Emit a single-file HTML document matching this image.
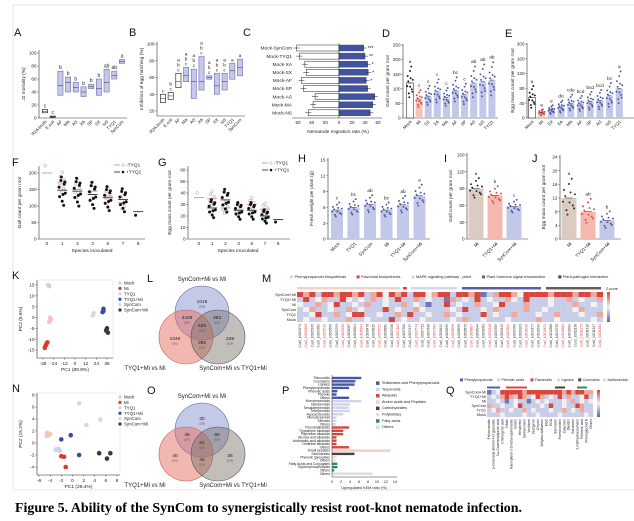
<!DOCTYPE html>
<html><head><meta charset="utf-8">
<style>
html,body{margin:0;padding:0;background:#fff;}
svg{display:block;font-family:"Liberation Sans",Arial,sans-serif;}
</style></head>
<body>
<svg id="fig" xmlns="http://www.w3.org/2000/svg" width="634" height="521" viewBox="0 0 634 521">
<rect x="13" y="5" width="640" height="485" fill="none" stroke="#e6e6e6" stroke-width="1"/>
<text x="15" y="512" font-family="Liberation Serif, serif" font-weight="bold" font-size="14" textLength="507" lengthAdjust="spacingAndGlyphs">Figure 5. Ability of the SynCom to synergistically resist root-knot nematode infection.</text>
</svg>
<script>
// ---------- DATA ----------
const catsA=["R2A broth","E.coli","AF","MA","AS","XA","SP","SX","NS","TYQ1","SynCom"];
const medA=[10,2,50,55,47,40,48,45,55,65,87];
const q1A=[8,1,35,40,40,33,45,35,40,60,84];
const q3A=[13,3,72,63,55,48,52,60,75,72,90];
const letA=["c","c","b","b","b","b","b","b","ab","ab","a"];
const catsB=["R2A broth","E.coli","AF","MA","AS","XA","SP","SX","NS","TYQ1","SynCom"];
const medB=[35,38,55,62,55,55,60,50,55,68,72];
const q1B=[30,34,48,55,35,45,58,40,45,58,62];
const q3B=[40,42,65,72,70,85,62,65,65,77,82];
const letB=["c","bc","abc","abc","abc","abc","abc","abc","abc","a","a"];
const catsC=["Mock-SynCom","Mock-TYQ1","Mock-XA","Mock-SX","Mock-AF","Mock-SP","Mock-AS","Mock-MA","Mock-NS"];
const leftC=[62,58,50,48,55,52,35,38,45];
const rightC=[38,40,44,45,42,44,55,52,48];
const starsC=["***","**","*","*","*","","","",""];
const catsD=["Mock","Mi","SX","XA","MA","AF","SP","AS","NS","TYQ1"];
const valsD=[120,65,75,90,70,95,80,120,125,130];
const letD=["a","c","c","c","c","bc","c","ab","ab","ab"];
const catsE=["Mock","Mi","SX","XA","MA","AF","SP","AS","NS","TYQ1"];
const valsE=[55,15,22,30,40,38,45,48,60,80];
const letE=["a","e","e","de","cde","bcd","bcd","bcd","bc","a"];
const speciesF=["0","1","2","3","5","7","8"];
const minusF=[200,170,150,145,130,110,null];
const plusF=[null,148,145,135,125,120,83];
const minusG=[36,35,27,25,30,26,null];
const plusG=[null,27,34,25,25,20,17];
const catsH=["Mock","TYQ1","SynCom","Mi","TYQ1+Mi","SynCom+Mi"];
const valsH=[5.5,6.0,6.6,5.5,6.5,8.2];
const letH=["c","bc","ab","bc","ab","a"];
const catsI=["Mi","TYQ1+Mi","SynCom+Mi"];
const valsI=[90,78,58];
const letI=["a","b","c"];
const valsJ=[12,8,5.5];
const letJ=["a","ab","b"];
const groupsPCA=["Mock","Mi","TYQ1","TYQ1+Mi","SynCom","SynCom+Mi"];
const pcaKx=[[-28,-27,-29],[-33,-32,-34,-31],[-30,-29],[32,32,31],[20,21],[36,35,37]];
const pcaKy=[[0,-1,-2],[-13,-12,-14,-11.5],[15,14.5],[4,3,2.5],[1,2],[-5,-6,-7]];
const pcaNx=[[-4.5,-4.2,-4.6,-4],[-2,-1.5,-1.2],[-3,-2.5,-2.3],[-2,-0.3,1.2],[1.2,2.5,5],[4.8,6.2,6.8]];
const pcaNy=[[1.7,1.3,1.2,1.5],[-2.2,-2.3,-4],[-1.1,-1,-1.3],[0.6,1.3,-2],[6.6,3,3.9],[-1.7,-2.6,-1.7]];
const vennL=[["1016","(108)"],["3439","(191)"],["535","(215)"],["383","(119)"],["1046","(281)"],["385","(211)"],["249","(219)"]];
const vennO=[["30","(126)"],["46","(107)"],["61","(111)"],["80","(118)"],["40","(201)"],["46","(211)"],["36","(219)"]];
const heatRowsM=["SynCom+Mi","TYQ1+Mi","Mi","SynCom","TYQ1","Mock"];
const heatM=[
"RrRbRRrRRrRbrRwRrRbRRwrRRbRRrRBbrRRrwRRRRrRRRrRRrR",
"bRbwrbbRwbwbrbwbRbbrbwbbBrbwbRbwbbrwbRbbbwbbrbwbbr",
"wbbrbwRbbwbrbbwbbrbwbBbbRbwbbrbbwRbbbrbbbwbbbrbbwb",
"bwrbbwbbrbwbbbRbwbbrwbbbbwbRbbwbrbbbbrbbwbbbbwrbbb",
"bbwRbbrbwRRbbwbbrbRbbwbbrbwbbbRbwbbrbbbwbbrbbbwbbr",
"bwbbwbbbrbbwbbbRbwbbwbbbbwbrbbwbbbwbbbbrbbwbbbbbwb"];
const heatQ=[
"BbwRRRRRrRRRRRRRRrRrRRrr",
"bwbrRrbRrbwRrbwbRbrbbwRb",
"bbwbBbwbbBbwbwbbbwbrbwbw",
"rbbwbbwRbbbbwbRbbwbbRrbb",
"bwrbbwbbrbwbbbwbbrbwbrbb",
"bbbwbbbbwbbwbbbbwbbbbbwb"];
const labelsQ=["Psilocinamide","p-Coumaryl alcohol 4-O-glucoside","3-p-Coumaroylquinic acid","Chlorogenic acid","Trifolin","Kaempferol 3-O-beta-sophoroside","Gnetin","Hesperetin","Isorhamnetin","Vestitone","Vestigenin","Chrysin","Dihydro-isoflavone","EGC","ECA","Biochanin","Formononetin","Calycosin","Daidzin","Sakuranin","3,4-Dihydrocoumarin","Phloretic acid","Phloroglucinol A","Others"];
const catsP=["Flavonoids","Coumarins","Lignans","Phenylpropanoids","Phenolic acids","Phenols","Others","Monoterpenoids","Diterpenoids","Sesquiterpenoids","Triterpenoids","Apocarotenoids","Monoterpenoid","Steroids","Others","Pseudoalkaloids","Tryptamine alkaloids","Piperidine alkaloids","Alcohol and alkaloids","Anthranilic acid alkaloids","Ornithine alkaloids","Others","Small peptides","Saccharides","Phenolic glycosides","Others","Fatty Acids and Conjugates","Glycerophospholipids","Others","Others"];
const valsP=[6.5,5.2,5,3.8,1.2,1,3.8,6.5,4,3.8,4,2.5,1,1,0.8,3.8,2.5,2.5,1,1,1,3.8,13,5,1,0.8,1.2,1.2,0.5,9];
const groupP=[0,0,0,0,0,0,0,1,1,1,1,1,1,1,1,2,2,2,2,2,2,2,3,4,5,5,6,6,6,7];
const legendP=["Shikimates and Phenylpropanoids","Terpenoids","Alkaloids","Amino acids and Peptides","Carbohydrates","Polyketides","Fatty acids","Others"];

// ---------- HELPERS ----------
const NS="http://www.w3.org/2000/svg";
const svg=document.getElementById('fig');
function mk(tag,attrs,parent){const e=document.createElementNS(NS,tag);for(const k in attrs)e.setAttribute(k,attrs[k]);(parent||svg).appendChild(e);return e;}
function tx(x,y,s,size,anchor,extra){const e=mk('text',Object.assign({x:x,y:y,'font-size':size,'text-anchor':anchor||'start',fill:'#222'},extra||{}));e.textContent=s;return e;}
function lin(d0,d1,r0,r1){return v=>r0+(v-d0)*(r1-r0)/(d1-d0);}
const NAVY="#4a56a6",LAV="#c3c7e8",RED="#dd4a3f",PINK="#f6c3bb";
const jit=[[-2,0.22],[1.5,-0.2],[0,0.38],[-1,-0.33],[2.4,0.1],[-2.4,-0.1],[0.6,0.15],[-0.6,-0.45],[1.1,0.52],[2,-0.28],[-1.5,0.05],[0.2,-0.12]];

function panelLetter(x,y,s){const t=tx(x,y,s,11,'start',{fill:'#111'});

}
function yAxis(x,y,ticks,top,bottom,title,titleX,tag){
 const l=mk('line',{x1:x,x2:x,y1:top,y2:bottom,stroke:'#333','stroke-width':0.6});
 
 
 ticks.forEach(v=>{mk('line',{x1:x-1.5,x2:x,y1:y(v),y2:y(v),stroke:'#333','stroke-width':0.5});
  const t=tx(x-2.5,y(v)+1.6,String(v),4.6,'end');
  
  });
 if(title){const cy=(top+bottom)/2;const t=tx(titleX,cy,title,4.8,'middle',{transform:`rotate(-90 ${titleX} ${cy})`});
  
  }
}
function xLine(x0,x1,y,tag){const l=mk('line',{x1:x0,x2:x1,y1:y,y2:y,stroke:'#333','stroke-width':0.6});
 
 }
function rotLabel(x,y,s,size,tag){const t=tx(x,y,s,size||4.6,'end',{transform:`rotate(-45 ${x} ${y})`});
 
 }

// ---------- A ----------
panelLetter(14,36,'A');
{const y=lin(0,100,118,53),xa=i=>45+i*7.7;
 yAxis(39,y,[0,20,40,60,80,100],50,118,'J2 mortality (%)',25,'a');xLine(39,127,118,'a');
 catsA.forEach((c,i)=>{const x=xa(i);const white=i<2;
  const b=mk('rect',{x:x-2.6,y:y(q3A[i]),width:5.2,height:Math.max(0.8,y(q1A[i])-y(q3A[i])),fill:white?'#fff':'#c5c8ea',stroke:white?'#111':'#6b70b2','stroke-width':0.6});
  
  
  mk('line',{x1:x-2.6,x2:x+2.6,y1:y(medA[i]),y2:y(medA[i]),stroke:'#333','stroke-width':0.5});
  const l=tx(x,y(q3A[i])-2,letA[i],5,'middle');
  
  
  rotLabel(x+2,122,c,4.4,'a');});}
// ---------- B ----------
panelLetter(129,36,'B');
{const y=lin(20,100,111,44),xb=i=>163+i*7.7;
 yAxis(157,y,[20,40,60,80,100],42,116,'Inhibition of egg hatching (%)',143,'b');xLine(157,245,116,'b');
 catsB.forEach((c,i)=>{const x=xb(i);const white=i<3;
  const b=mk('rect',{x:x-2.6,y:y(q3B[i]),width:5.2,height:y(q1B[i])-y(q3B[i]),fill:white?'#fff':'#c5c8ea',stroke:white?'#111':'#6b70b2','stroke-width':0.6});
  
  
  mk('line',{x1:x-2.6,x2:x+2.6,y1:y(medB[i]),y2:y(medB[i]),stroke:'#333','stroke-width':0.5});
  const s=letB[i];for(let k=0;k<s.length;k++){const l=tx(x,y(q3B[i])-2-(s.length-1-k)*5,s[k],4.8,'middle');
   
   }
  rotLabel(x+2,120,c,4.4,'b');});}
// ---------- C ----------
panelLetter(243,36,'C');
{const xl=lin(0,60,339,298),xr=lin(0,60,339,378),yc=i=>48+i*8.1;
 catsC.forEach((c,i)=>{const yy=yc(i);
  const t=tx(292,yy+1.7,c,4.8,'end');
  
  
  const bl=mk('rect',{x:xl(leftC[i]),y:yy-3,width:339-xl(leftC[i]),height:6,fill:'#fff',stroke:'#222','stroke-width':0.5});
  
  
  const br=mk('rect',{x:339,y:yy-3,width:xr(rightC[i])-339,height:6,fill:'#4453a0',stroke:'#2d3a80','stroke-width':0.4});
  
  
  mk('line',{x1:xl(leftC[i])-3,x2:xl(leftC[i])+3,y1:yy,y2:yy,stroke:'#222','stroke-width':0.5});
  mk('line',{x1:xr(rightC[i])-2,x2:xr(rightC[i])+3,y1:yy,y2:yy,stroke:'#222','stroke-width':0.5});
  if(starsC[i]){const s=tx(xr(rightC[i])+4,yy+2,starsC[i],5,'start');
   
   }});
 mk('line',{x1:339,x2:339,y1:43,y2:118,stroke:'#333','stroke-width':0.6});
 xLine(292,382,118,'c');
 [60,40,20].forEach(v=>{const a=tx(xl(v),124,String(v),4.6,'middle');});
 [0,20,40,60].forEach(v=>{const a=tx(xr(v),124,String(v),4.6,'middle');});
 const tt=tx(338,133,'Nematode migration rate (%)',4.8,'middle');
 
 }
// ---------- bar+dot helper ----------
function barDots(cats,vals,xf,w,y,fills,dotCols,lets,tag,spread,strokeFirst){
 cats.forEach((c,i)=>{const x=xf(i);
  const r=mk('rect',{x:x-w/2,y:y(vals[i]),width:w,height:y(0)-y(vals[i]),fill:fills[i],stroke:(strokeFirst&&i==0)?'#111':'none','stroke-width':0.5});
  
  
  jit.forEach(j=>{const v=vals[i]*(1+j[1]*spread);
   const d=mk('circle',{cx:x+j[0]*w/6,cy:y(v),r:0.95,fill:dotCols[i]});
   
   });
  mk('line',{x1:x-w/4,x2:x+w/4,y1:y(vals[i]),y2:y(vals[i]),stroke:'#222','stroke-width':0.5});
  if(lets){const l=tx(x,y(vals[i]*(1+0.55*spread))-2.5,lets[i],4.8,'middle');
   
   }});}
// ---------- D ----------
panelLetter(382,37,'D');
{const y=lin(0,250,118,45),xd=i=>410+i*9.1;
 yAxis(403,y,[0,50,100,150,200,250],44,118,'Gall count per gram root',389,'d');xLine(403,498,118,'d');
 barDots(catsD,valsD,xd,7,y,catsD.map((c,i)=>i==0?'#fff':i==1?PINK:LAV),catsD.map((c,i)=>i==0?'#111':i==1?RED:NAVY),letD,'d',0.9,true);
 catsD.forEach((c,i)=>rotLabel(xd(i)+2,122,c,4.4,'d'));}
// ---------- E ----------
panelLetter(505,37,'E');
{const y=lin(0,200,118,44),xe=i=>532+i*9.7;
 yAxis(527,y,[0,40,80,120,160,200],43,118,'Egg mass count per gram root',514,'e');xLine(527,634,118,'e');
 barDots(catsE,valsE,xe,7,y,catsE.map((c,i)=>i==0?'#fff':i==1?PINK:LAV),catsE.map((c,i)=>i==0?'#111':i==1?RED:NAVY),letE,'e',1.1,true);
 catsE.forEach((c,i)=>rotLabel(xe(i)+2,122,c,4.4,'e'));}
// ---------- F / G ----------
function speciesPanel(minus,plus,xf,y,tag){
 speciesF.forEach((s,i)=>{const x=xf(i);
  if(minus[i]!=null){jit.slice(0,i==0?1:6).forEach(j=>{const c=mk('circle',{cx:x+j[0]*0.9,cy:y(minus[i]*(1+j[1]*0.5)),r:1.4,fill:'#fff',stroke:'#999','stroke-width':0.5});
    
    });
   mk('line',{x1:x-5,x2:x+5,y1:y(minus[i]),y2:y(minus[i]),stroke:'#e08a8a','stroke-width':0.9});}
  if(plus[i]!=null){jit.slice(0,i==6?1:10).forEach(j=>{const c=mk('circle',{cx:x+j[0]*1.3,cy:y(plus[i]*(1-j[1]*0.6)),r:1.5,fill:'#111'});
    
    });
   mk('line',{x1:x-5,x2:x+5,y1:y(plus[i]),y2:y(plus[i]),stroke:'#333','stroke-width':0.9});}
  const t=tx(x,245,s,4.8,'middle');
  
  });}
function spLegend(x,y,tag){
 mk('line',{x1:x,x2:x+6,y1:y,y2:y,stroke:'#e08a8a','stroke-width':0.9});mk('circle',{cx:x+9,cy:y,r:1.2,fill:'#fff',stroke:'#999','stroke-width':0.5});
 const a=tx(x+12,y+1.7,'-TYQ1',4.8);
 mk('line',{x1:x,x2:x+6,y1:y+7,y2:y+7,stroke:'#333','stroke-width':0.9});mk('circle',{cx:x+9,cy:y+7,r:1.3,fill:'#111'});
 const b=tx(x+12,y+8.7,'+TYQ1',4.8);}
panelLetter(12,166,'F');
{const y=lin(0,200,239,173),xf=i=>47+i*15.2;
 yAxis(39,y,[0,50,100,150,200],166,239,'Gall count per gram root',21,'f');xLine(39,145,239,'f');
 speciesPanel(minusF,plusF,xf,y,'f');spLegend(114,165,'f');
 const t=tx(92,252,'Species inoculated',4.9,'middle');}
panelLetter(158,166,'G');
{const y=lin(0,60,239,170),xg=i=>199+i*13.2;
 yAxis(188,y,[0,10,20,30,40,50,60],166,239,'Egg mass count per gram root',171,'g');xLine(188,290,239,'g');
 speciesPanel(minusG,plusG,xg,y,'g');spLegend(262,163,'g');
 const t=tx(238,252,'Species inoculated',4.9,'middle');}
// ---------- H ----------
panelLetter(298,162,'H');
{const y=lin(0,15,239,160),xh=i=>337+i*16.5;
 yAxis(328,y,[0,3,6,9,12,15],158,239,'Fresh weight per plant (g)',313,'h');xLine(328,430,239,'h');
 barDots(catsH,valsH,xh,12,y,catsH.map(()=>LAV),catsH.map(()=>NAVY),letH,'h',0.5,false);
 catsH.forEach((c,i)=>rotLabel(xh(i)+3,244,c,4.6,'h'));}
// ---------- I ----------
panelLetter(444,162,'I');
{const y=lin(0,150,239,155),xi=i=>476+i*19;
 yAxis(467,y,[0,30,60,90,120,150],153,239,'Gall count per gram root',452,'i');xLine(467,528,239,'i');
 barDots(catsI,valsI,xi,15,y,['#dccbc0','#f5b8b0',LAV],['#222',RED,NAVY],letI,'i',0.4,false);
 catsI.forEach((c,i)=>rotLabel(xi(i)+3,244,c,4.6,'i'));}
// ---------- J ----------
panelLetter(532,162,'J');
{const y=lin(0,24,239,157),xj=i=>569+i*19;
 yAxis(560,y,[0,4,8,12,16,20,24],155,239,'Egg mass count per gram root',545,'j');xLine(560,621,239,'j');
 barDots(catsI,valsJ,xj,15,y,['#dccbc0','#f5b8b0',LAV],['#222',RED,NAVY],letJ,'j',0.9,false);
 catsI.forEach((c,i)=>rotLabel(xj(i)+3,244,c,4.6,'j'));}
// ---------- PCA ----------
const pcaCols=['#f2c6bd','#d9392f','#cfd0ec','#3f4aa0','#dcd8d4','#3d3733'];
function pca(xs,ys,xf,yf,box,xt,yt,xtitle,ytitle,lx,ly,tag){
 mk('rect',{x:box[0],y:box[1],width:box[2]-box[0],height:box[3]-box[1],fill:'none',stroke:'#ddd','stroke-width':0.5});
 yAxis(box[0],yf,yt,box[1],box[3],ytitle,box[0]-15,tag);xLine(box[0],box[2],box[3],tag);
 xt.forEach(v=>{mk('line',{x1:xf(v),x2:xf(v),y1:box[3],y2:box[3]+1.5,stroke:'#333','stroke-width':0.5});
  const t=tx(xf(v),box[3]+7,String(v),4.8,'middle');});
 const tt=tx((box[0]+box[2])/2,box[3]+13,xtitle,4.9,'middle');
 groupsPCA.forEach((g,gi)=>{xs[gi].forEach((v,k)=>{const c=mk('circle',{cx:xf(v),cy:yf(ys[gi][k]),r:2.3,fill:pcaCols[gi]});
   
   });
  mk('circle',{cx:lx,cy:ly+gi*5.4,r:1.6,fill:pcaCols[gi]});
  const t=tx(lx+4,ly+gi*5.4+1.6,g,4.4);});}
panelLetter(12,279,'K');
pca(pcaKx,pcaKy,lin(-36,36,43,107),lin(-15,15,350,285),[37,280,113,358],[-36,-24,-12,0,12,24,36],[-15,-10,-5,0,5,10,15],'PC1 (80.8%)','PC2 (6.6%)',120,283,'k');
panelLetter(12,392,'N');
pca(pcaNx,pcaNy,lin(-6,8,39,117),lin(-4,8,467,395),[37,393,120,475],[-6,-4,-2,0,2,4,6,8],[-4,-2,0,2,4,6,8],'PC1 (29.4%)','PC2 (15.2%)',120,397,'n');
// ---------- Venn ----------
function venn(cy0,nums,tag){
 const cs=[[202,cy0,'rgba(125,135,205,0.45)','#5a64b0','top'],[186,cy0+24,'rgba(232,112,100,0.5)','#d05a50','left'],[218,cy0+24,'rgba(120,110,100,0.45)','#555','right']];
 cs.forEach(c=>{const e=mk('circle',{cx:c[0],cy:c[1],r:27,fill:c[2],stroke:c[3],'stroke-width':0.6});
  
  });
 const pos=[[202,cy0-10],[187,cy0+6],[202,cy0+14],[217,cy0+6],[175,cy0+27],[202,cy0+31],[230,cy0+27]];
 pos.forEach((p,i)=>{const a=tx(p[0],p[1],nums[i][0],4.8,'middle');
  const b=tx(p[0],p[1]+4.5,nums[i][1],2.8,'middle',{fill:'#555'});});
 const t1=tx(202,cy0-32,'SynCom+Mi vs Mi',6,'middle');
 const t2=tx(145,cy0+57,'TYQ1+Mi vs Mi',6,'middle');
 const t3=tx(233,cy0+57,'SynCom+Mi vs  TYQ1+Mi',6,'middle');}
panelLetter(147,282,'L');venn(313,vennL,'l');
panelLetter(147,394,'O');venn(430,vennO,'o');
// ---------- heatmap helper ----------
const hcol={R:'#d9463e',r:'#eea89c',w:'#f4f0f0',b:'#c8cde8',B:'#6d78b8'};
function heat(rows,names,x0,x1,y0,rh,tag){
 rows.forEach((s,ri)=>{const cw=(x1-x0)/s.length;
  for(let k=0;k<s.length;k++){const r=mk('rect',{x:x0+k*cw,y:y0+ri*rh,width:cw+0.1,height:rh+0.1,fill:hcol[s[k]]});
   
   }
  const t=tx(x0-1,y0+ri*rh+rh-1,names[ri],3.8,'end');});
 const g=mk('linearGradient',{id:tag+'g',x1:0,y1:0,x2:0,y2:1});mk('stop',{offset:0,'stop-color':'#d9463e'},g);mk('stop',{offset:0.5,'stop-color':'#f4f0f0'},g);mk('stop',{offset:1,'stop-color':'#5c66ad'},g);
 const cb=mk('rect',{x:x1+4,y:y0,width:3,height:rows.length*rh,fill:`url(#${tag}g)`});
 
 }
function legendRow(items,cols,x,y,gap,size,tag){let cx=x;items.forEach((s,i)=>{mk('rect',{x:cx,y:y-2.6,width:3,height:3,fill:cols[i]});
 const t=tx(cx+4.5,y,s,size);
 cx+=6+s.length*size*0.5+gap;});}
// ---------- M ----------
panelLetter(262,282,'M');
legendRow(['Phenylpropanoid biosynthesis','Flavonoid biosynthesis','MAPK signaling pathway - plant','Plant hormone signal transduction','Plant-pathogen interaction'],['#f3d1c8','#d9463e','#d3d5ea','#5560a8','#4a403a'],290,278,6,3.9,'m');
[[297,400,'#f3d1c8'],[403,407,'#d9463e'],[411,457,'#d3d5ea'],[462,541,'#5560a8'],[546,601,'#6a5f58']].forEach(s=>{const r=mk('rect',{x:s[0],y:287,width:s[1]-s[0],height:2.5,fill:s[2]});});
heat(heatM,heatRowsM,297,603,292,5,'m');
{const t=tx(606,290,'Z-score',3.5);
 const n=heatM[0].length,cw=306/n;for(let k=0;k<n;k++){const x=297+k*cw+cw/2+1;const lab='Cus0_'+(10004971+k*137);
  const l=tx(x,324,lab,3.2,'end',{transform:`rotate(-90 ${x} 324)`,fill:k%3==1?'#d9463e':'#333'});
  
  }}
// ---------- P ----------
panelLetter(282,394,'P');
{const colsP=['#4a56a6','#cfd3ec','#d9463e','#f4cfc6','#4a403a','#f1d9e0','#2e8b57','#dcdcdc'];
 const x=lin(0,14,332,395),yp=i=>378+i*3.3;
 catsP.forEach((c,i)=>{const r=mk('rect',{x:332,y:yp(i)-1.2,width:x(valsP[i])-332,height:2.4,fill:colsP[groupP[i]]});
  
  
  const t=tx(330,yp(i)+1.1,c,3.4,'end');});
 mk('line',{x1:332,x2:332,y1:375,y2:477,stroke:'#333','stroke-width':0.5});xLine(332,397,477,'p');
 [0,2,4,6,8,10,12,14].forEach(v=>{const t=tx(x(v),483,String(v),3.8,'middle');});
 const tt=tx(364,489,'Upregulated KEM ratio (%)',3.8,'middle');
 legendP.forEach((s,i)=>{mk('rect',{x:376,y:384+i*6.3-2.6,width:3.5,height:3.5,fill:colsP[i]});
  const t=tx(382,384+i*6.3,s,3.8);});}
// ---------- Q ----------
panelLetter(446,394,'Q');
legendRow(['Phenylpropanoids','Phenolic acids','Flavonoids','Lignans','Coumarins','Isoflavonoids','Other'],['#5560a8','#d3d5ea','#d9463e','#f3d1c8','#4a403a','#dcdcdc','#2e8b57'],460,381,3,3.5,'q');
[[487,500,'#5560a8'],[506,527,'#d9463e'],[555,565,'#4a403a'],[577,587,'#2e8b57']].forEach(s=>{const r=mk('rect',{x:s[0],y:386.5,width:s[1]-s[0],height:2,fill:s[2]});});
heat(heatQ,heatRowsM,487,593,390,4.5,'q');
{const n=heatQ[0].length,cw=106/n;labelsQ.forEach((s,k)=>{const x=487+k*cw+cw/2+1;
  const l=tx(x,419,s,3.3,'end',{transform:`rotate(-90 ${x} 419)`});
  
  });}
</script>
</body></html>
